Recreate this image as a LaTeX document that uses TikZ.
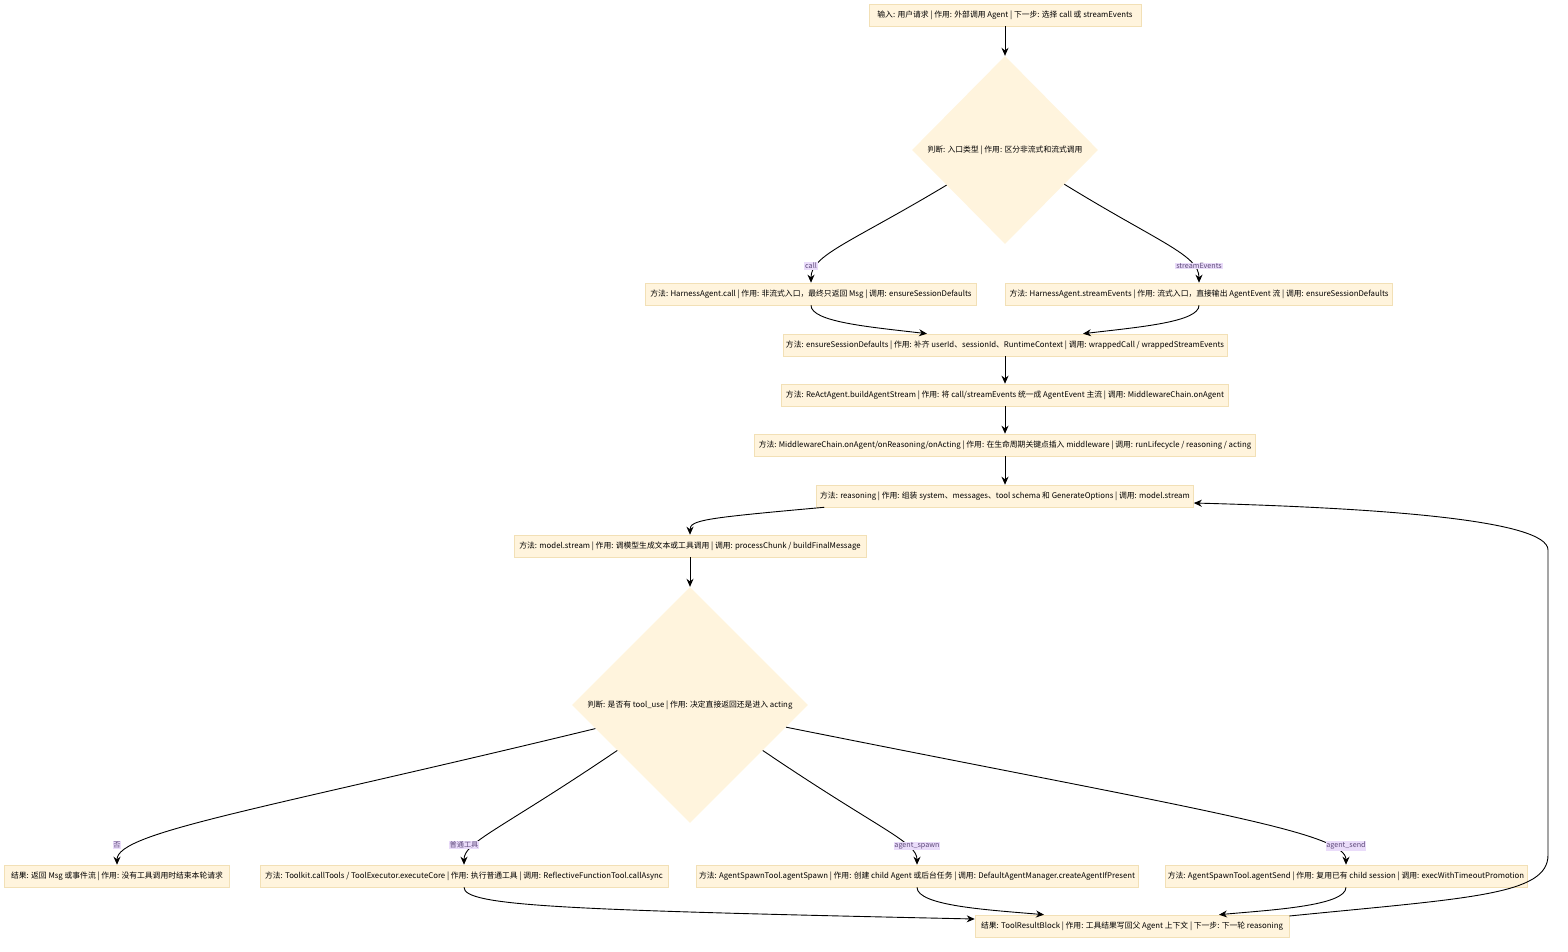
\documentclass[tikz,border=0pt]{standalone}
\usepackage{fontspec}
\setmainfont{Noto Sans CJK SC}
\usetikzlibrary{shapes.geometric,arrows.meta}
\definecolor{nodefill}{HTML}{FFF4DD}
\definecolor{nodeline}{HTML}{F2E0B6}
\definecolor{lblfill}{HTML}{EADCFA}
\definecolor{lbltext}{HTML}{5E4A7A}
\tikzset{
  box/.style={draw=nodeline, fill=nodefill, line width=0.6pt, minimum height=22pt, inner xsep=3pt, inner ysep=0pt, font=\fontsize{7.8}{9}\selectfont, anchor=center},
  decide/.style={diamond, aspect=1, fill=nodefill, draw=none, inner sep=0pt, font=\fontsize{7.8}{9}\selectfont},
  lbl/.style={fill=lblfill, text=lbltext, inner sep=0.8pt, font=\fontsize{7.2}{8}\selectfont},
  arr/.style={draw=black, line width=0.9pt, -{Stealth[length=8pt,width=7pt]}},
}
\begin{document}
\begin{tikzpicture}[x=1pt,y=-1pt]
\useasboundingbox (0,0) rectangle (1568,952);
\node[box, minimum width=272pt] (top) at (1005,15) {输入: 用户请求 | 作用: 外部调用 Agent | 下一步: 选择 call 或 streamEvents};
\node[decide, minimum width=186pt, minimum height=188pt] (d1) at (1005,150) {判断: 入口类型 | 作用: 区分非流式和流式调用};
\node[box, minimum width=331pt] (call) at (811,294) {方法: HarnessAgent.call | 作用: 非流式入口，最终只返回 Msg | 调用: ensureSessionDefaults};
\node[box, minimum width=387pt] (stream) at (1199,294) {方法: HarnessAgent.streamEvents | 作用: 流式入口，直接输出 AgentEvent 流 | 调用: ensureSessionDefaults};
\node[box, minimum width=439pt] (ensure) at (1005,345) {方法: ensureSessionDefaults | 作用: 补齐 userId、sessionId、RuntimeContext | 调用: wrappedCall / wrappedStreamEvents};
\node[box, minimum width=447pt] (build) at (1005,395) {方法: ReActAgent.buildAgentStream | 作用: 将 call/streamEvents 统一成 AgentEvent 主流 | 调用: MiddlewareChain.onAgent};
\node[box, minimum width=501pt] (mw) at (1005,445) {方法: MiddlewareChain.onAgent/onReasoning/onActing | 作用: 在生命周期关键点插入 middleware | 调用: runLifecycle / reasoning / acting};
\node[box, minimum width=377pt] (reason) at (1005,496) {方法: reasoning | 作用: 组装 system、messages、tool schema 和 GenerateOptions | 调用: model.stream};
\node[box, minimum width=352pt] (model) at (690,546) {方法: model.stream | 作用: 调模型生成文本或工具调用 | 调用: processChunk / buildFinalMessage};
\node[decide, minimum width=236pt, minimum height=236pt] (d2) at (690,705) {判断: 是否有 tool\_use | 作用: 决定直接返回还是进入 acting};
\node[box, minimum width=225pt] (done) at (117,876) {结果: 返回 Msg 或事件流 | 作用: 没有工具调用时结束本轮请求};
\node[box, minimum width=408pt] (toolkit) at (464,876) {方法: Toolkit.callTools / ToolExecutor.executeCore | 作用: 执行普通工具 | 调用: ReflectiveFunctionTool.callAsync};
\node[box, minimum width=442pt] (spawn) at (917,876) {方法: AgentSpawnTool.agentSpawn | 作用: 创建 child Agent 或后台任务 | 调用: DefaultAgentManager.createAgentIfPresent};
\node[box, minimum width=361pt] (send) at (1346,876) {方法: AgentSpawnTool.agentSend | 作用: 复用已有 child session | 调用: execWithTimeoutPromotion};
\node[box, minimum width=314pt] (result) at (1132,926) {结果: ToolResultBlock | 作用: 工具结果写回父 Agent 上下文 | 下一步: 下一轮 reasoning};

\draw[arr] (top.south) -- (d1.north);
\draw[arr] (d1.211) .. controls (850,243) and (811,255) .. (call.north);
\draw[arr] (d1.330) .. controls (1160,243) and (1199,255) .. (stream.north);
\draw[arr] (call.south) .. controls (811,322) and (870,327) .. ([xshift=-78pt]ensure.north);
\draw[arr] (stream.south) .. controls (1199,322) and (1140,327) .. ([xshift=78pt]ensure.north);
\draw[arr] (ensure.south) -- (build.north);
\draw[arr] (build.south) -- (mw.north);
\draw[arr] (mw.south) -- (reason.north);
\draw[arr] ([xshift=8pt]reason.south west) .. controls (705,518) and (690,520) .. (model.north);
\draw[arr] (model.south) -- (d2.north);
\draw[arr] (d2.194) .. controls (260,810) and (117,832) .. (done.north);
\draw[arr] (d2.212) .. controls (500,830) and (464,842) .. (toolkit.north);
\draw[arr] (d2.328) .. controls (880,830) and (917,842) .. (spawn.north);
\draw[arr] (d2.347) .. controls (1200,810) and (1346,832) .. (send.north);
\draw[arr] (toolkit.south) .. controls (464,906) and (560,910) .. ([yshift=7pt]result.west);
\draw[arr] (spawn.south) .. controls (917,906) and (990,910) .. ([xshift=-88pt]result.north);
\draw[arr] (send.south) .. controls (1346,906) and (1270,910) .. ([xshift=87pt]result.north);
\draw[arr] ([yshift=10pt]result.east) .. controls (1470,898) and (1548,895) .. (1548,855) -- (1548,550) .. controls (1548,520) and (1380,508) .. ([yshift=-7pt]reason.east);

\node[lbl] (lcall) at (811,266) {call};
\node[lbl] (lstream) at (1199,266) {streamEvents};
\node[lbl] (lno) at (117,845) {否};
\node[lbl] (ltool) at (464,845) {普通工具};
\node[lbl] (lspawn) at (917,846) {agent\_spawn};
\node[lbl] (lsend) at (1346,846) {agent\_send};
\end{tikzpicture}
\end{document}
